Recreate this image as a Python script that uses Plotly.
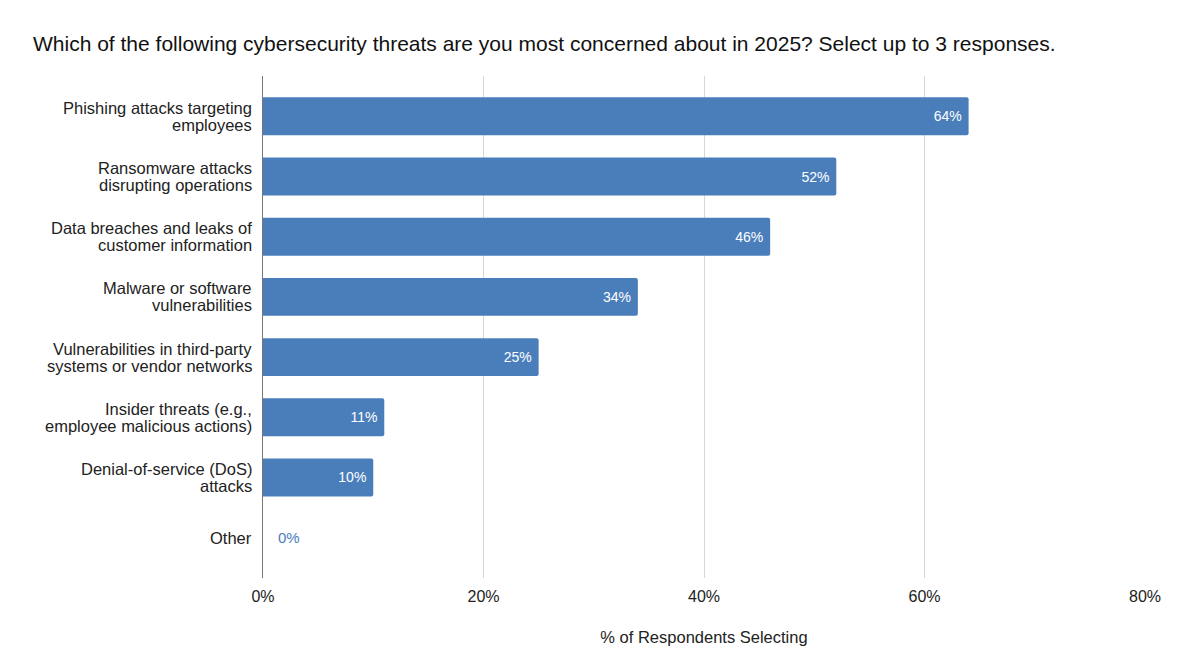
import plotly.graph_objects as go

# Survey responses: share of respondents selecting each threat (%)
threats = [
    "Phishing attacks targeting<br>employees",
    "Ransomware attacks<br>disrupting operations",
    "Data breaches and leaks of<br>customer information",
    "Malware or software<br>vulnerabilities",
    "Vulnerabilities in third-party<br>systems or vendor networks",
    "Insider threats (e.g.,<br>employee malicious actions)",
    "Denial-of-service (DoS)<br>attacks",
    "Other",
]
share_pct = [64, 52, 46, 34, 25, 11, 10, 0]
x_ticks = [0, 20, 40, 60, 80]
x_tick_labels = ["0%", "20%", "40%", "60%", "80%"]

BAR = "#4a7ebb"
FONT = "Liberation Sans, Arial, Helvetica, sans-serif"
TEXT = "#222222"

# Value labels: inside the bar end for non-zero bars, annotation for empty ones
labels = [f"{v}%\u00a0" if v > 0 else "" for v in share_pct]

fig = go.Figure(
    go.Bar(
        x=share_pct,
        y=threats,
        orientation="h",
        marker=dict(color=BAR, line=dict(width=0)),
        text=labels,
        textposition="inside",
        insidetextanchor="end",
        insidetextfont=dict(color="white", size=14, family=FONT),
        textangle=0,
        hoverinfo="skip",
    )
)

for cat, v in zip(threats, share_pct):
    if v == 0:
        fig.add_annotation(
            x=v, y=cat, xref="x", yref="y",
            text=f"{v}%", showarrow=False,
            xanchor="left", yanchor="middle", xshift=13,
            font=dict(color=BAR, size=15, family=FONT),
        )

# Category labels drawn line by line for tighter line spacing
LINE_H = 17
for cat in threats:
    lines = cat.split("<br>")
    k = len(lines)
    for i, line in enumerate(lines):
        fig.add_annotation(
            x=0, y=cat, xref="paper", yref="y",
            text=line, showarrow=False,
            xanchor="right", yanchor="middle", xshift=-9,
            yshift=((k - 1) / 2 - i) * LINE_H,
            font=dict(size=16.5, color=TEXT, family=FONT),
        )

n = len(threats)
pad = 0.17
fig.update_layout(
    width=1177,
    height=664,
    margin=dict(l=263, r=32, t=76, b=86),
    paper_bgcolor="white",
    plot_bgcolor="white",
    bargap=0.37,
    barcornerradius=2,
    showlegend=False,
    font=dict(family=FONT, color=TEXT),
    title=dict(
        text="Which of the following cybersecurity threats are you most concerned about in 2025? Select up to 3 responses.",
        x=33 / 1177,
        xanchor="left",
        xref="container",
        y=1 - 44 / 664,
        yanchor="middle",
        yref="container",
        font=dict(size=21, color="#111111", family=FONT),
    ),
    xaxis=dict(
        range=[0, 80],
        tickvals=x_ticks,
        ticktext=x_tick_labels,
        showgrid=True,
        gridcolor="#d6d6d6",
        gridwidth=1,
        zeroline=False,
        showline=False,
        ticks="",
        ticklabelstandoff=7,
        tickfont=dict(size=16, color=TEXT),
        title=dict(
            text="% of Respondents Selecting",
            font=dict(size=16.5, color=TEXT),
            standoff=27,
        ),
    ),
    yaxis=dict(
        type="category",
        range=[n - 0.5 + pad, -0.5 - pad],
        showgrid=False,
        showline=True,
        linecolor="#777777",
        linewidth=1,
        ticks="",
        showticklabels=False,
    ),
)

fig.write_html("out.html")
